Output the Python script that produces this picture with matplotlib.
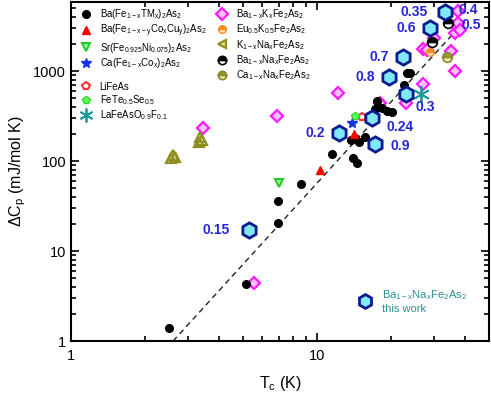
import matplotlib
matplotlib.use("Agg")
import matplotlib.pyplot as plt
from matplotlib.lines import Line2D

plt.rcParams['font.family'] = ['Liberation Sans', 'DejaVu Sans']
plt.rcParams['mathtext.default'] = 'regular'

# ---- data (Tc in K, dCp in mJ/mol K) ----
tm_tc = [2.5, 5.15, 6.95, 6.95, 8.6, 11.5, 14.0, 14.5, 13.7, 14.2, 14.8, 15.7,
         17.2, 17.5, 18.4, 19.3, 20.2, 22.6, 23.2, 23.8]
tm_dc = [1.4, 4.3, 20.5, 36, 56, 120, 108, 95, 170, 180, 163, 185,
         380, 470, 390, 360, 350, 700, 950, 960]

cocu_tc = [10.3, 14.1]
cocu_dc = [79, 200]

srni_tc = [7.0]
srni_dc = [57]

caco_tc = [13.9]
caco_dc = [264]

lifeas_tc = [15.2]
lifeas_dc = [308]

fetese_tc = [14.3]
fetese_dc = [316]

lafeas_tc = [26.5]
lafeas_dc = [555]

bak_tc = [5.55, 3.44, 6.88, 12.2, 18.0, 23.0, 27.0, 27.0, 28.0, 29.9, 35.1, 36.4, 37.4, 37.5, 36.4, 38.0]
bak_dc = [4.4, 233, 316, 570, 441, 441, 717, 1755, 1720, 2326, 1670, 1000, 4640, 3415, 2643, 2900]

euk_tc = [28.8]
euk_dc = [1626]

kna_tc = [2.55, 2.65, 2.6, 3.3, 3.4, 3.35]
kna_dc = [108, 112, 118, 165, 172, 185]

bana_tc = [29.3, 34.1]
bana_dc = [2100, 3415]

cana_tc = [33.8]
cana_dc = [1432]

# this work: Ba1-xNaxFe2As2
tw_x = ['0.15', '0.2', '0.24', '0.9', '0.3', '0.8', '0.7', '0.6', '0.35']
tw_tc = [5.29, 12.3, 16.7, 17.2, 23.0, 19.6, 22.4, 28.8, 33.1]
tw_dc = [17.1, 205, 300, 154, 555, 858, 1432, 3006, 4525]
tw_off = [(-24, 0), (-17, 0), (20, -6), (18, -1), (14, -9), (-17, 0), (-17, 0), (-17, 0), (-22, 0)]
extra_lab = ['0.4', '0.5']
extra_tc = [41.3, 42.3]
extra_dc = [4760, 3245]

fit_tc = [2.6, 41]
fit_dc = [1.0, 3950]

fig = plt.figure(figsize=(4.91, 3.97), dpi=100)
ax = fig.add_axes([0.1446, 0.141, 0.8514, 0.854])
ax.set_xscale('log')
ax.set_yscale('log')

ax.plot(fit_tc, fit_dc, ls=(0, (4, 3)), color='#222222', lw=1.0, zorder=1)

ax.plot(tm_tc, tm_dc, 'o', color='black', ms=5.5, zorder=3)
ax.plot(cocu_tc, cocu_dc, '^', color='red', ms=6, zorder=3)
ax.plot(srni_tc, srni_dc, 'v', mfc='#a8ffa8', mec='#22cc22', mew=1.5, ms=6, zorder=3)
ax.plot(caco_tc, caco_dc, '*', color='#1133ee', ms=7, zorder=3)
ax.plot(lifeas_tc, lifeas_dc, 'p', mfc='white', mec='#ff3030', mew=1.5, ms=6, zorder=3)
ax.plot(fetese_tc, fetese_dc, 'p', mfc='#66ff66', mec='#22dd22', ms=6, zorder=3)
ax.plot(lafeas_tc, lafeas_dc, ls='none', marker=(6, 2, 0), color='#1a9a9a', mew=1.3, ms=12, zorder=3)
ax.plot(bak_tc, bak_dc, 'D', mfc='#ffc0ff', mec='#ff1aff', mew=1.6, ms=6, zorder=2)
ax.plot(euk_tc, euk_dc, 'o', fillstyle='top', mfc='#ff8c1a', mfcalt='#ffe0c0', mec='#ff8c1a', ms=5.5, zorder=3)
ax.plot(kna_tc, kna_dc, '^', mfc='none', mec='#8f8f1f', mew=1.6, ms=7, zorder=3)
ax.plot(bana_tc, bana_dc, 'o', fillstyle='top', mfc='black', mfcalt='white', mec='black', mew=1.2, ms=7, zorder=3)
ax.plot(cana_tc, cana_dc, 'o', fillstyle='top', mfc='#9a9a3a', mfcalt='#e8e8b0', mec='#8a8a2a', mew=1.2, ms=7, zorder=3)

ax.plot(tw_tc, tw_dc, 'h', mfc='#80e8f8', mec='#0a1a90', mew=2, ms=11, ls='none', zorder=4)
for lab, tc, dc, off in zip(tw_x, tw_tc, tw_dc, tw_off):
    ax.annotate(lab, (tc, dc), xytext=off, textcoords='offset points',
                ha='center', va='center', color='#2626d8', fontsize=10, fontweight='bold')
for lab, tc, dc in zip(extra_lab, extra_tc, extra_dc):
    ax.text(tc, dc, lab, ha='center', va='center', color='#2626d8', fontsize=10, fontweight='bold')

ax.set_xlim(1, 50)
ax.set_ylim(1, 5900)
ax.set_xticks([1, 10])
ax.set_xticklabels(['1', '10'])
ax.set_yticks([1, 10, 100, 1000])
ax.set_yticklabels(['1', '10', '100', '1000'])
ax.tick_params(which='both', direction='in', top=True, right=True, labelsize=10.5, width=1.2)
ax.tick_params(which='major', length=6)
ax.tick_params(which='minor', length=3.5)
ax.tick_params(axis='x', pad=6)
for s in ax.spines.values():
    s.set_linewidth(1.5)

ax.set_xlabel('T$_c$ (K)', fontsize=11.5, labelpad=8)
ax.set_ylabel('$\\Delta$C$_p$ (mJ/mol K)', fontsize=11.5, labelpad=4)

# legends
def mk(**kw):
    return Line2D([], [], ls='none', **kw)

h1 = [mk(marker='o', color='black', ms=5.5),
      mk(marker='^', color='red', ms=6),
      mk(marker='v', mfc='#a8ffa8', mec='#22cc22', mew=1.5, ms=6),
      mk(marker='*', color='#1133ee', ms=7)]
l1 = ['Ba(Fe$_{1-x}$TM$_x$)$_2$As$_2$', 'Ba(Fe$_{1-x-y}$Co$_x$Cu$_y$)$_2$As$_2$',
      'Sr(Fe$_{0.925}$Ni$_{0.075}$)$_2$As$_2$', 'Ca(Fe$_{1-x}$Co$_x$)$_2$As$_2$']
h2 = [mk(marker='p', mfc='white', mec='#ff3030', mew=1.5, ms=6),
      mk(marker='p', mfc='#66ff66', mec='#22dd22', ms=6),
      mk(marker=(6, 2, 0), color='#1a9a9a', mew=1.3, ms=10)]
l2 = ['LiFeAs', 'FeTe$_{0.5}$Se$_{0.5}$', 'LaFeAsO$_{0.9}$F$_{0.1}$']
h3 = [mk(marker='D', mfc='#ffc0ff', mec='#ff1aff', mew=1.6, ms=6),
      mk(marker='o', fillstyle='top', mfc='#ff8c1a', mfcalt='#ffe0c0', mec='#ff8c1a', ms=5.5),
      mk(marker='<', mfc='#e0e0a0', mec='#8f8f1f', mew=1.6, ms=6),
      mk(marker='o', fillstyle='top', mfc='black', mfcalt='white', mec='black', mew=1.2, ms=6),
      mk(marker='o', fillstyle='top', mfc='#9a9a3a', mfcalt='#e8e8b0', mec='#8a8a2a', mew=1.2, ms=6)]
l3 = ['Ba$_{1-x}$K$_x$Fe$_2$As$_2$', 'Eu$_{0.5}$K$_{0.5}$Fe$_2$As$_2$',
      'K$_{1-x}$Na$_x$Fe$_2$As$_2$', 'Ba$_{1-x}$Na$_x$Fe$_2$As$_2$',
      'Ca$_{1-x}$Na$_x$Fe$_2$As$_2$']

kw = dict(frameon=False, fontsize=6.9, handlelength=1.0, handletextpad=0.9,
          labelspacing=0.16, borderaxespad=0, borderpad=0)
leg1 = ax.legend(h1, l1, loc='upper left', bbox_to_anchor=(0.025, 0.985), **kw)
ax.add_artist(leg1)
leg2 = ax.legend(h2, l2, loc='upper left', bbox_to_anchor=(0.025, 0.765), **kw)
ax.add_artist(leg2)
leg3 = ax.legend(h3, l3, loc='upper left', bbox_to_anchor=(0.35, 0.985), **kw)
ax.add_artist(leg3)
h4 = [mk(marker='h', mfc='#80e8f8', mec='#0a1a90', mew=2, ms=10)]
leg4 = ax.legend(h4, ['Ba$_{1-x}$Na$_x$Fe$_2$As$_2$\nthis work'], loc='upper left',
                 bbox_to_anchor=(0.69, 0.155), frameon=False, fontsize=8,
                 handlelength=1.0, handletextpad=1.0, borderaxespad=0, borderpad=0,
                 labelcolor='#2a9090')

fig.savefig('out.png', dpi=100)
